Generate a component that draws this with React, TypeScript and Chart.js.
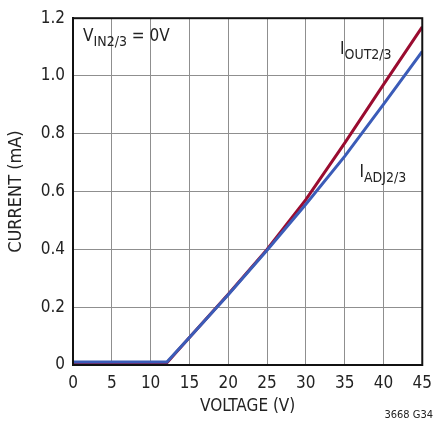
import React, { useEffect, useRef } from "react";
import { Chart, registerables } from "chart.js";

Chart.register(...registerables);

const voltage = [0, 12.1, 15, 20, 25, 30, 35, 40, 45];
const ioutValues = [0.008, 0.008, 0.095, 0.245, 0.4, 0.572, 0.768, 0.97, 1.17];
const iadjValues = [0.01, 0.01, 0.095, 0.243, 0.397, 0.556, 0.722, 0.902, 1.085];
const xTicks = [0, 5, 10, 15, 20, 25, 30, 35, 40, 45];
const yTicks = [0, 0.2, 0.4, 0.6, 0.8, 1.0, 1.2];

const FONT = "'DejaVu Sans Condensed', 'Liberation Sans Narrow', 'Liberation Sans', sans-serif";
const RED = "#9a0c30";
const BLUE = "#3b5cb8";

function drawSub(ctx: CanvasRenderingContext2D, x: number, y: number, main: string, sub: string, rest: string, size: number) {
  ctx.save();
  ctx.fillStyle = "#222";
  ctx.textBaseline = "alphabetic";
  ctx.textAlign = "left";
  ctx.font = `${size}px ${FONT}`;
  ctx.fillText(main, x, y);
  let w = ctx.measureText(main).width;
  ctx.font = `${Math.round(size * 0.82)}px ${FONT}`;
  ctx.fillText(sub, x + w, y + size * 0.28);
  w += ctx.measureText(sub).width;
  if (rest) {
    ctx.font = `${size}px ${FONT}`;
    ctx.fillText(rest, x + w, y);
  }
  ctx.restore();
}

const annotations = {
  id: "annotations",
  afterDatasetsDraw(chart: any) {
    const { ctx, chartArea, scales } = chart;
    const xs = scales.x;
    const ys = scales.y;
    ctx.save();
    ctx.strokeStyle = "#111";
    ctx.lineWidth = 2;
    ctx.strokeRect(chartArea.left, chartArea.top, chartArea.right - chartArea.left, chartArea.bottom - chartArea.top);
    ctx.restore();
    drawSub(ctx, xs.getPixelForValue(1.3), ys.getPixelForValue(1.122), "V", "IN2/3", " = 0V", 17);
    drawSub(ctx, xs.getPixelForValue(34.4), ys.getPixelForValue(1.077), "I", "OUT2/3", "", 17);
    drawSub(ctx, xs.getPixelForValue(36.9), ys.getPixelForValue(0.65), "I", "ADJ2/3", "", 17);
    ctx.save();
    ctx.fillStyle = "#222";
    ctx.font = `11px ${FONT}`;
    ctx.textAlign = "right";
    ctx.textBaseline = "alphabetic";
    ctx.fillText("3668 G34", 433, 418);
    ctx.restore();
  },
};

export default function App() {
  const ref = useRef<HTMLCanvasElement>(null);
  useEffect(() => {
    document.body.style.margin = "0";
    const c = new Chart(ref.current!, {
      type: "line",
      data: {
        datasets: [
          {
            label: "IADJ2/3",
            data: voltage.map((v, i) => ({ x: v, y: iadjValues[i] })),
            borderColor: BLUE,
            borderWidth: 3,
            pointRadius: 0,
            tension: 0,
            fill: false,
          },
          {
            label: "IOUT2/3",
            data: voltage.map((v, i) => ({ x: v, y: ioutValues[i] })),
            borderColor: RED,
            borderWidth: 3,
            pointRadius: 0,
            tension: 0,
            fill: false,
          },
        ],
      },
      options: {
        responsive: false,
        animation: false,
        layout: { padding: { top: 14, right: 15, left: 0, bottom: 0 } },
        plugins: { legend: { display: false }, tooltip: { enabled: false } },
        scales: {
          x: {
            type: "linear",
            min: 0,
            max: 45,
            afterBuildTicks: (s: any) => {
              s.ticks = xTicks.map((v) => ({ value: v }));
            },
            afterFit: (s: any) => {
              s.height = 58;
            },
            grid: { color: "#8f8f8f", lineWidth: 1, drawTicks: false },
            border: { color: "#111", width: 2 },
            ticks: { color: "#222", font: { family: FONT, size: 17 }, padding: 8, maxRotation: 0 },
            title: { display: true, text: "VOLTAGE (V)", color: "#222", font: { family: FONT, size: 17 }, padding: { top: 0, bottom: 6 } },
          },
          y: {
            type: "linear",
            min: 0,
            max: 1.2,
            afterBuildTicks: (s: any) => {
              s.ticks = yTicks.map((v) => ({ value: v }));
            },
            afterFit: (s: any) => {
              s.width = 73;
            },
            grid: { color: "#8f8f8f", lineWidth: 1, drawTicks: false },
            border: { color: "#111", width: 2 },
            ticks: {
              color: "#222",
              font: { family: FONT, size: 17 },
              padding: 8,
              callback: (v: any) => (Number(v) === 0 ? "0" : Number(v).toFixed(1)),
            },
            title: { display: true, text: "CURRENT (mA)", color: "#222", font: { family: FONT, size: 18 }, padding: { top: 6, bottom: 0 } },
          },
        },
      },
      plugins: [annotations],
    });
    return () => c.destroy();
  }, []);
  return <canvas ref={ref} width={440} height={423} style={{ display: "block" }} />;
}
